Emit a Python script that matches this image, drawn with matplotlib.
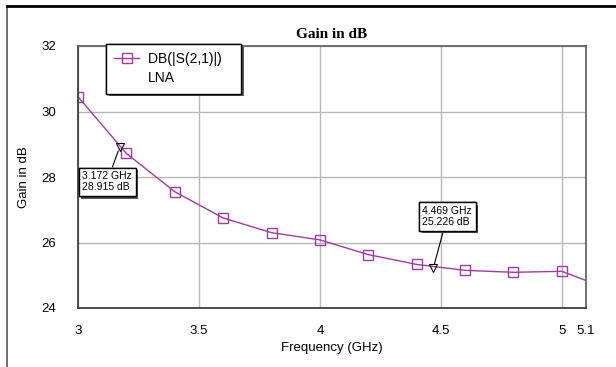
import numpy as np
import matplotlib.pyplot as plt
import matplotlib.patheffects as pe
from matplotlib.patches import Rectangle

# S21 gain of the LNA, sampled every 0.2 GHz
freq = [3.0, 3.2, 3.4, 3.6, 3.8, 4.0, 4.2, 4.4, 4.6, 4.8, 5.0, 5.1]
gain = [30.45, 28.72, 27.55, 26.75, 26.30, 26.08, 25.63, 25.33, 25.15, 25.09, 25.12, 24.84]
marker_freq = [3.0, 3.2, 3.4, 3.6, 3.8, 4.0, 4.2, 4.4, 4.6, 4.8, 5.0]

# markers placed on the trace
m_freq = [3.172, 4.469]
m_gain = [28.915, 25.226]

xticks = [3, 3.5, 4, 4.5, 5, 5.1]
xticklabels = ['3', '3.5', '4', '4.5', '5', '5.1']
yticks = [24, 26, 28, 30, 32]

purple = '#a03ca0'
sans = 'Liberation Sans'

fig = plt.figure(figsize=(6.16, 3.67), dpi=100)

# outer frame of the figure
fig.patches.append(Rectangle((7 / 616, -0.01), 1.0, 1 - 6 / 367 + 0.01, transform=fig.transFigure,
                             fill=False, edgecolor='0.35', linewidth=1.2))
fig.add_artist(plt.Line2D([7 / 616, 1], [1 - 6 / 367, 1 - 6 / 367], color='black', linewidth=2))

ax = fig.add_axes([78 / 616, 1 - 308 / 367, 508 / 616, 262 / 367])

ax.plot(freq, gain, color=purple, linewidth=1)
mk = [gain[freq.index(f)] for f in marker_freq]
ax.plot(marker_freq, mk, linestyle='none', marker='s', markersize=7,
        markerfacecolor='none', markeredgecolor=purple, markeredgewidth=1)

ax.set_xlim(3, 5.1)
ax.set_ylim(24, 32)
ax.set_xticks(xticks)
ax.set_xticklabels(xticklabels)
ax.set_yticks(yticks)
ax.grid(True, color='0.72', linewidth=1)
ax.tick_params(length=0, labelsize=9.5)
ax.tick_params(axis='x', pad=12)
ax.tick_params(axis='y', pad=16)
for lbl in ax.get_xticklabels() + ax.get_yticklabels():
    lbl.set_family(sans)
for s in ['left', 'bottom']:
    ax.spines[s].set_color('0.25')
for s in ['right', 'top']:
    ax.spines[s].set_color('0.4')
for s in ax.spines.values():
    s.set_linewidth(1.3)

ax.set_title('Gain in dB', family='Liberation Serif', fontweight='bold', fontsize=11, pad=6)
ax.set_xlabel('Frequency (GHz)', family=sans, fontsize=9.5, labelpad=4)
ax.set_ylabel('Gain in dB', family=sans, fontsize=9.5, labelpad=8)

# trace markers with readout boxes
ax.plot(m_freq, m_gain, linestyle='none', marker='v', markersize=6,
        markerfacecolor='none', markeredgecolor='black', markeredgewidth=0.8)
offsets = [(-9, -25), (10, 37)]
for f, g, off in zip(m_freq, m_gain, offsets):
    ann = ax.annotate(f'{f:.3f} GHz\n{g:.3f} dB', xy=(f, g), xytext=off,
                      textcoords='offset points', ha='center', va='center',
                      multialignment='left', family=sans, fontsize=7.5, linespacing=1.15,
                      bbox=dict(boxstyle='square,pad=0.35', facecolor='white',
                                edgecolor='black', linewidth=1),
                      arrowprops=dict(arrowstyle='-', color='black', linewidth=0.8,
                                      shrinkA=0, shrinkB=3))
    ann.get_bbox_patch().set_path_effects([
        pe.withSimplePatchShadow(offset=(2, -2), shadow_rgbFace='0.35', alpha=1), pe.Normal()])

trace_handle = plt.Line2D([], [], color=purple, linewidth=1, marker='s', markersize=7,
                          markerfacecolor='none', markeredgecolor=purple)
blank_handle = plt.Line2D([], [], color='none')
leg = ax.legend([trace_handle, blank_handle], ['DB(|S(2,1)|)   ', 'LNA'], loc='upper left',
                bbox_to_anchor=(106 / 616, 1 - 44 / 367), bbox_transform=fig.transFigure,
                fancybox=False, shadow=False, framealpha=1, edgecolor='black',
                prop={'family': sans, 'size': 10}, handlelength=1.8, handletextpad=0.6,
                borderpad=0.6, labelspacing=0.35, borderaxespad=0)
leg.get_frame().set_linewidth(1)
leg.get_frame().set_path_effects([
    pe.withSimplePatchShadow(offset=(2, -2), shadow_rgbFace='0.35', alpha=1), pe.Normal()])

fig.savefig('out.png', dpi=100)
